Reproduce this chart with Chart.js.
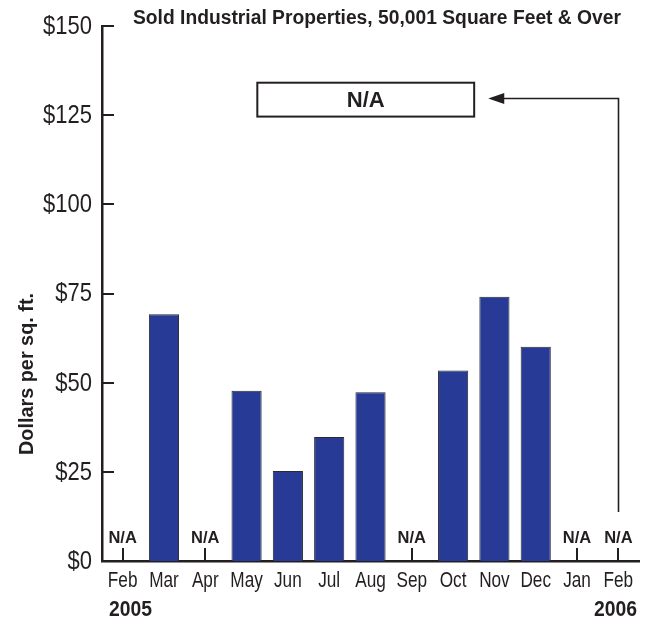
<!DOCTYPE html>
<html>
<head>
<meta charset="utf-8">
<script src="https://cdn.jsdelivr.net/npm/chart.js@4.4.0/dist/chart.umd.min.js"></script>
<style>
  html, body { margin: 0; padding: 0; background: #fff; }
  canvas { display: block; }
</style>
</head>
<body>
<canvas id="chart" width="653" height="625"></canvas>
<script>
const months = ["Feb", "Mar", "Apr", "May", "Jun", "Jul", "Aug", "Sep", "Oct", "Nov", "Dec", "Jan", "Feb"];
// null = N/A
const pricePerSqFt = [null, 69.2, null, 47.7, 25.2, 34.8, 47.3, null, 53.4, 74.1, 60.1, null, null];
const yearLabels = ["2005", "2006"];
const chartTitle = "Sold Industrial Properties, 50,001 Square Feet & Over";
const yTitle = "Dollars per sq. ft.";

const INK = "#231f20";
const BAR = "#263a96";
const FONT = "'Liberation Sans', Arial, Helvetica, sans-serif";

// draw text squeezed horizontally (fake condensed face); fitWidth forces a given width
function narrowText(ctx, text, x, y, font, align, sx, fitWidth) {
    ctx.save();
    ctx.font = font;
    ctx.textAlign = align;
    ctx.textBaseline = "middle";
    if (fitWidth) sx = fitWidth / ctx.measureText(text).width;
    ctx.translate(x, y);
    ctx.scale(sx, 1);
    ctx.fillText(text, 0, 0);
    ctx.restore();
}

const decorPlugin = {
    id: "decor",
    beforeDatasetsDraw(chart) {
        const ctx = chart.ctx;
        const area = chart.chartArea;
        const x = chart.scales.x;
        const y = chart.scales.y;
        ctx.save();
        ctx.strokeStyle = INK;
        ctx.lineWidth = 2;
        // inward ticks on the category axis
        months.forEach(function (m, i) {
            const px = Math.round(x.getPixelForValue(i));
            ctx.beginPath();
            ctx.moveTo(px, area.bottom);
            ctx.lineTo(px, area.bottom - 13);
            ctx.stroke();
        });
        // inward ticks on the value axis
        y.ticks.forEach(function (t) {
            const py = Math.round(y.getPixelForValue(t.value));
            ctx.beginPath();
            ctx.moveTo(area.left, py);
            ctx.lineTo(area.left + 12, py);
            ctx.stroke();
        });
        ctx.restore();
    },
    afterDraw(chart) {
        const ctx = chart.ctx;
        const area = chart.chartArea;
        const x = chart.scales.x;
        const y = chart.scales.y;
        ctx.save();
        ctx.fillStyle = INK;
        ctx.strokeStyle = INK;

        // tick labels
        y.ticks.forEach(function (t) {
            narrowText(ctx, "$" + t.value, area.left - 10, y.getPixelForValue(t.value) + 1, "25px " + FONT, "right", 0.88);
        });
        months.forEach(function (m, i) {
            narrowText(ctx, m, x.getPixelForValue(i), area.bottom + 20, "21.5px " + FONT, "center", 0.8);
        });

        // N/A markers for missing months
        ctx.font = "bold 16.5px " + FONT;
        ctx.textAlign = "center";
        ctx.textBaseline = "middle";
        pricePerSqFt.forEach(function (v, i) {
            if (v === null) {
                ctx.fillText("N/A", x.getPixelForValue(i), area.bottom - 23);
            }
        });

        // title
        narrowText(ctx, chartTitle, 377, 18, "bold 20px " + FONT, "center", 1, 488);

        // y axis title
        ctx.save();
        ctx.translate(27, 374);
        ctx.rotate(-Math.PI / 2);
        narrowText(ctx, yTitle, 0, 0, "bold 20px " + FONT, "center", 1, 162);
        ctx.restore();

        // years
        narrowText(ctx, yearLabels[0], 109, 610, "bold 21.5px " + FONT, "left", 0.9);
        narrowText(ctx, yearLabels[1], 637, 610, "bold 21.5px " + FONT, "right", 0.9);

        // N/A box for the latest month
        const bx0 = x.getPixelForValue(3.26);
        const bx1 = x.getPixelForValue(8.51);
        const by0 = y.getPixelForValue(134.1);
        const by1 = y.getPixelForValue(124.6);
        ctx.lineWidth = 2;
        ctx.strokeRect(bx0, by0, bx1 - bx0, by1 - by0);
        narrowText(ctx, "N/A", (bx0 + bx1) / 2, (by0 + by1) / 2 + 1, "bold 22px " + FONT, "center", 1, 38);

        // arrow from the last month up to the box
        const lx = Math.round(x.getPixelForValue(months.length - 1)) + 0.5;
        const ay = Math.round(y.getPixelForValue(129.7)) + 0.5;
        const tip = x.getPixelForValue(8.85);
        ctx.lineWidth = 1.6;
        ctx.beginPath();
        ctx.moveTo(lx, area.bottom - 49);
        ctx.lineTo(lx, ay);
        ctx.lineTo(tip + 14, ay);
        ctx.stroke();
        ctx.beginPath();
        ctx.moveTo(tip, ay);
        ctx.lineTo(tip + 16, ay - 5.5);
        ctx.lineTo(tip + 16, ay + 5.5);
        ctx.closePath();
        ctx.fill();

        ctx.restore();
    }
};

const barChart = new Chart(document.getElementById("chart").getContext("2d"), {
    type: "bar",
    data: {
        labels: months,
        datasets: [
            {
                label: "Dollars per sq. ft.",
                data: pricePerSqFt,
                backgroundColor: BAR,
                borderColor: "#2a2a2a",
                borderWidth: 1,
                borderSkipped: "bottom",
                barPercentage: 0.73,
                categoryPercentage: 1.0
            }
        ]
    },
    options: {
        responsive: false,
        devicePixelRatio: 1,
        animation: false,
        layout: { padding: { top: 26, right: 14, left: 0, bottom: 0 } },
        plugins: {
            legend: { display: false },
            tooltip: { enabled: false },
            title: { display: false }
        },
        scales: {
            x: {
                offset: true,
                grid: { display: false },
                border: { display: true, color: INK, width: 2.5 },
                ticks: { display: false, autoSkip: false },
                afterFit: function (scale) { scale.height = 64; }
            },
            y: {
                min: 0,
                max: 150,
                grid: { display: false },
                border: { display: true, color: INK, width: 2.5 },
                ticks: { display: false, stepSize: 25 },
                afterFit: function (scale) { scale.width = 102; }
            }
        }
    },
    plugins: [decorPlugin]
});
</script>
</body>
</html>
